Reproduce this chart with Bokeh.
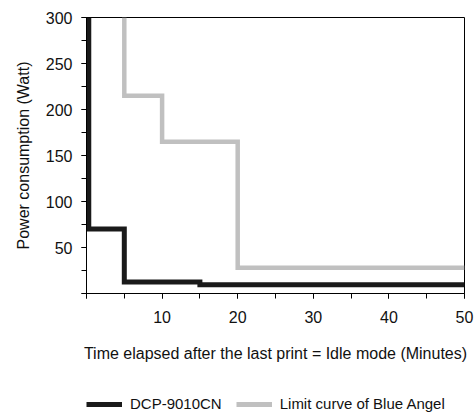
from bokeh.plotting import figure
from bokeh.layouts import column
from bokeh.models import Range1d, SingleIntervalTicker, Legend, LegendItem
from bokeh.embed import file_html
from bokeh.resources import INLINE

# Data (step curves: value holds until the next time)
dcp_minutes = [0.3, 0.3, 5, 15, 50]
dcp_watts = [300, 70, 12.5, 9.5, 9.5]
angel_minutes = [5, 5, 10, 20, 50]
angel_watts = [300, 215, 165, 28, 28]
series_names = ["DCP-9010CN", "Limit curve of Blue Angel"]
x_label = "Time elapsed after the last print = Idle mode (Minutes)"
y_label = "Power consumption (Watt)"

FONT = "Liberation Sans"
BLACK = "#1a1a1a"
GRAY = "#c0c0c0"


def steps(xs, ys):
    sx, sy = [xs[0]], [ys[0]]
    for i in range(1, len(xs)):
        sx += [xs[i], xs[i]]
        sy += [ys[i - 1], ys[i]]
    return sx, sy


p = figure(width=474, height=390, output_backend="svg", toolbar_location=None,
           x_range=Range1d(0, 50), y_range=Range1d(0, 300),
           min_border_left=86, min_border_right=10, min_border_top=17, min_border_bottom=97)
p.xgrid.visible = False
p.ygrid.visible = False
p.outline_line_color = "black"
p.outline_line_width = 1
p.background_fill_color = "white"
p.border_fill_color = "white"

bx, by = steps(dcp_minutes, dcp_watts)
gx, gy = steps(angel_minutes, angel_watts)
p.line(bx, by, line_color=BLACK, line_width=5, line_join="miter")
p.line(gx, gy, line_color=GRAY, line_width=4.5, line_join="miter")

for ax, interval in ((p.xaxis[0], 10), (p.yaxis[0], 50)):
    ax.ticker = SingleIntervalTicker(interval=interval, num_minor_ticks=2)
    ax.major_label_overrides = {0: ""}
    ax.major_tick_in = 0
    ax.major_tick_out = 5
    ax.minor_tick_in = 0
    ax.minor_tick_out = 5
    ax.axis_line_color = "black"
    ax.major_tick_line_color = "black"
    ax.minor_tick_line_color = "black"
    ax.major_label_text_font = FONT
    ax.major_label_text_font_size = "16px"
    ax.major_label_text_color = "#111111"
    ax.axis_label_text_font = FONT
    ax.axis_label_text_font_size = "16px"
    ax.axis_label_text_font_style = "normal"
    ax.axis_label_text_color = "#111111"

p.xaxis[0].axis_label = x_label
p.yaxis[0].axis_label = y_label
p.xaxis[0].major_label_standoff = 12
p.xaxis[0].axis_label_standoff = 19
p.yaxis[0].major_label_standoff = 9
p.yaxis[0].axis_label_standoff = 11

# legend strip below the chart (series lines lie outside its view; only the legend shows)
leg = figure(width=474, height=22, output_backend="svg", toolbar_location=None,
             x_axis_type=None, y_axis_type=None,
             min_border_left=86, min_border_right=10, min_border_top=0, min_border_bottom=0,
             x_range=Range1d(0, 1), y_range=Range1d(-2, -1))
leg.outline_line_color = None
leg.background_fill_color = "white"
leg.border_fill_color = "white"
l1 = leg.line(bx, by, line_color=BLACK, line_width=5)
l2 = leg.line(gx, gy, line_color=GRAY, line_width=5)

legend = Legend(items=[LegendItem(label=series_names[0], renderers=[l1]),
                       LegendItem(label=series_names[1], renderers=[l2])],
                location=(0, 0), orientation="horizontal",
                glyph_width=36, glyph_height=16, label_standoff=8, spacing=14,
                padding=0, margin=0, border_line_alpha=0, background_fill_alpha=0,
                label_text_font=FONT, label_text_font_size="15px",
                label_text_color="#111111")
leg.add_layout(legend, "center")

layout = column(p, leg, spacing=0)
open("out.html", "w").write(file_html(layout, INLINE))
